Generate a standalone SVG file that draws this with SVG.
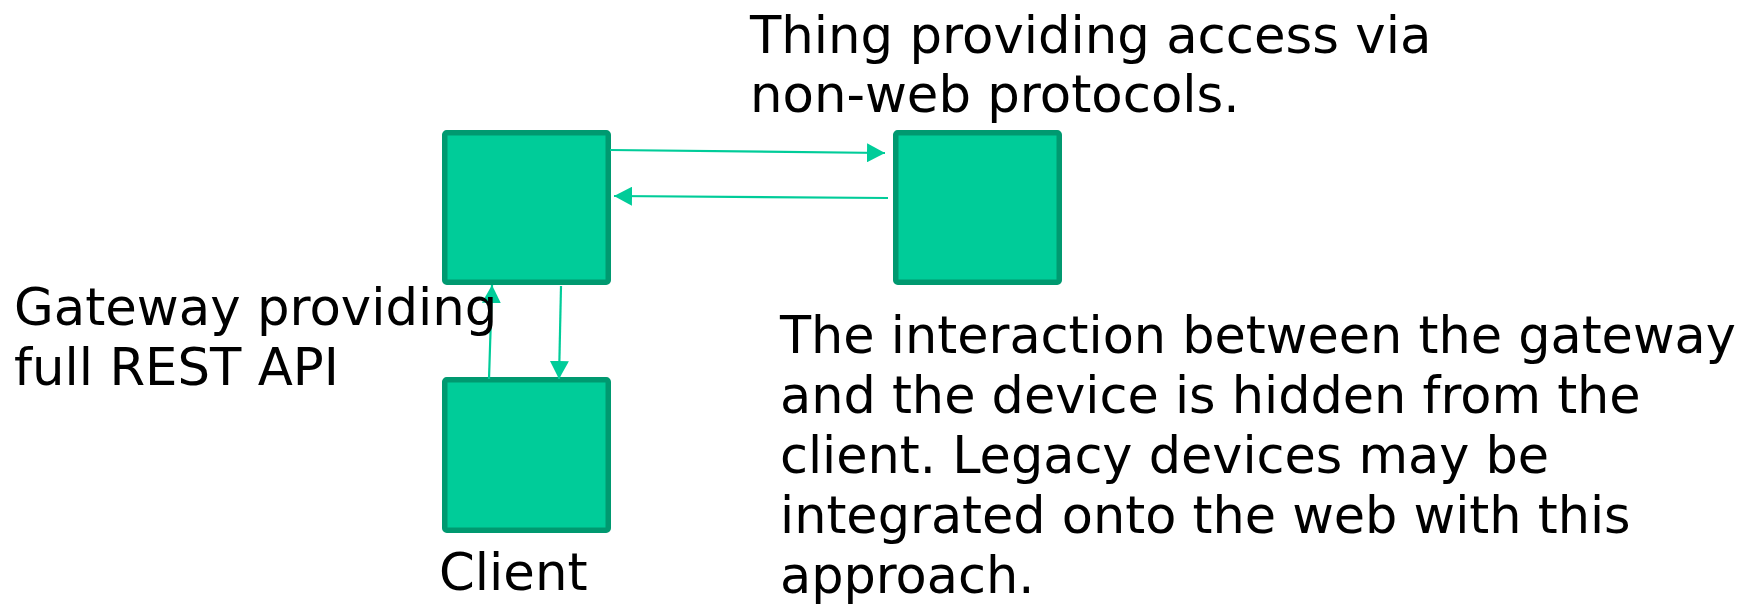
<svg xmlns="http://www.w3.org/2000/svg" width="1756" height="608" viewBox="0 0 1756 608">
  <style>
    .box { fill: #00CC99; stroke: #009970; stroke-width: 5.5; }
    .conn { stroke: #00CC99; stroke-width: 2.2; fill: none; marker-end: url(#arrow); }
    text { font-family: "DejaVu Sans", Verdana, sans-serif; font-size: 51.3px; fill: #000; }
    .para { font-size: 50.9px; }
  </style>
  <defs>
    <marker id="arrow" markerUnits="userSpaceOnUse" markerWidth="19" markerHeight="19" viewBox="0 0 19 19" refX="18" refY="9.5" orient="auto">
      <path d="M0,0 L18,9.5 L0,19 Z" fill="#00CC99"/>
    </marker>
  </defs>
  <rect width="1756" height="608" fill="#fff"/>
  <g id="gateway">
    <rect class="box" x="444.75" y="132.75" width="163.5" height="149.5" rx="2"/>
  </g>
  <g id="thing">
    <rect class="box" x="895.75" y="132.75" width="163.5" height="149.5" rx="2"/>
  </g>
  <g id="client">
    <rect class="box" x="444.75" y="379.75" width="163.5" height="150.5" rx="2"/>
  </g>
  <g id="connectors">
    <line class="conn" x1="610" y1="150" x2="885" y2="153"/>
    <line class="conn" x1="888" y1="198" x2="614" y2="196"/>
    <line class="conn" x1="489" y1="379" x2="492" y2="285"/>
    <line class="conn" x1="561" y1="286" x2="559" y2="379"/>
  </g>
  <g id="labels">
    <text x="14" y="325">Gateway providing</text>
    <text x="14" y="385">full REST API</text>
    <text x="439" y="590">Client</text>
    <text x="750" y="53">Thing providing access via</text>
    <text x="750" y="112">non-web protocols.</text>
    <text class="para" x="780" y="353">The interaction between the gateway</text>
    <text class="para" x="780" y="413">and the device is hidden from the</text>
    <text class="para" x="780" y="473">client. Legacy devices may be</text>
    <text class="para" x="780" y="533">integrated onto the web with this</text>
    <text class="para" x="780" y="593">approach.</text>
  </g>
</svg>
